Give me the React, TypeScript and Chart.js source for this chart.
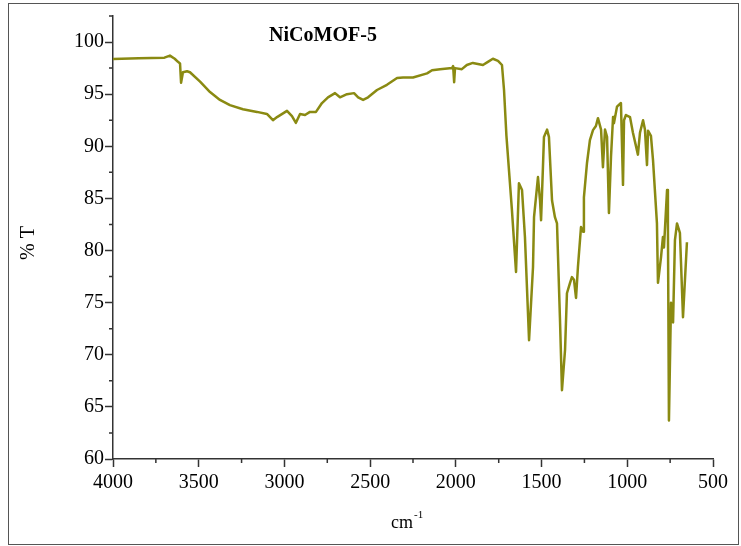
import { useEffect, useRef } from 'react';
import { Chart, registerables } from 'chart.js';

Chart.register(...registerables);

const FONT = "'Liberation Serif', 'Times New Roman', serif";
const LINE_COLOR = '#8a8a12';
const AXIS_COLOR = '#333333';

const chartTitle = 'NiCoMOF-5';
const yAxisTitle = '% T';
const xAxisTitleBase = 'cm';
const xAxisTitleSup = '-1';

const xMajorTicks = [4000, 3500, 3000, 2500, 2000, 1500, 1000, 500];
const xMinorTicks = [3750, 3250, 2750, 2250, 1750, 1250, 750];
const yMajorTicks = [60, 65, 70, 75, 80, 85, 90, 95, 100];
const yMinorTicks = [62.5, 67.5, 72.5, 77.5, 82.5, 87.5, 92.5, 97.5, 102.5];

const wavenumbers = [
  4000, 3850, 3700, 3668, 3640, 3621, 3609, 3603, 3592, 3568,
  3551, 3492, 3434, 3376, 3318, 3242, 3160, 3102, 3067, 3043,
  2985, 2956, 2933, 2909, 2880, 2851, 2816, 2781, 2746, 2705,
  2676, 2635, 2594, 2570, 2541, 2512, 2460, 2402, 2343, 2308,
  2250, 2168, 2139, 2092, 2022, 2016, 2010, 2005, 1965, 1936,
  1901, 1842, 1813, 1784, 1754, 1731, 1719, 1705, 1673, 1649,
  1632, 1614, 1597, 1573, 1550, 1544, 1521, 1509, 1503, 1492,
  1486, 1468, 1457, 1439, 1422, 1410, 1393, 1381, 1363, 1352,
  1334, 1323, 1311, 1299, 1288, 1270, 1258, 1253, 1235, 1218,
  1200, 1183, 1171, 1153, 1142, 1130, 1118, 1107, 1095, 1083,
  1078, 1060, 1037, 1025, 1019, 1008, 984, 967, 938, 926,
  908, 897, 885, 879, 862, 850, 827, 821, 803, 792,
  786, 768, 763, 757, 745, 733, 722, 710, 693, 675,
  652,
];

const transmittance = [
  98.37, 98.45, 98.5, 98.7, 98.4, 98.1, 97.95, 96.1, 97.1, 97.2,
  97.1, 96.2, 95.2, 94.45, 93.95, 93.55, 93.3, 93.1, 92.5, 92.8,
  93.4, 92.9, 92.25, 93.1, 93.0, 93.3, 93.3, 94.15, 94.7, 95.1,
  94.7, 95.0, 95.1, 94.7, 94.45, 94.7, 95.4, 95.9, 96.55, 96.6,
  96.6, 97.0, 97.3, 97.4, 97.5, 97.7, 96.15, 97.5, 97.4, 97.8,
  98.0, 97.8, 98.1, 98.4, 98.2, 97.8, 95.4, 91.0, 83.9, 77.95,
  86.45, 85.8, 81.3, 71.4, 78.4, 83.2, 87.05, 84.8, 82.9, 88.0,
  90.9, 91.6, 90.9, 84.8, 83.2, 82.6, 73.6, 66.6, 70.5, 75.9,
  76.9, 77.45, 77.2, 75.45, 78.4, 82.25, 81.8, 85.1, 88.4, 90.6,
  91.55, 91.95, 92.7, 91.6, 88.0, 91.6, 90.9, 83.6, 89.0, 92.8,
  92.2, 93.8, 94.15, 86.3, 92.5, 93.0, 92.8, 91.3, 89.2, 91.3,
  92.5, 91.6, 88.2, 91.5, 91.0, 88.7, 82.6, 76.9, 79.4, 81.3,
  80.3, 85.8, 82.6, 63.7, 75.0, 73.1, 81.0, 82.6, 81.7, 73.6,
  80.8,
];

export default function App() {
  const ref = useRef<HTMLCanvasElement>(null);

  useEffect(() => {
    if (!ref.current) return;

    const overlay = {
      id: 'overlay',
      afterDraw(chart: any) {
        const ctx = chart.ctx as CanvasRenderingContext2D;
        const xs = chart.scales.x;
        const ys = chart.scales.y;
        ctx.save();
        // minor ticks
        ctx.strokeStyle = AXIS_COLOR;
        ctx.lineWidth = 1.5;
        ctx.beginPath();
        xMinorTicks.forEach((v) => {
          const px = xs.getPixelForValue(v);
          ctx.moveTo(px, ys.bottom);
          ctx.lineTo(px, ys.bottom + 4);
        });
        yMinorTicks.forEach((v) => {
          const py = ys.getPixelForValue(v);
          ctx.moveTo(xs.left, py);
          ctx.lineTo(xs.left - 4, py);
        });
        ctx.stroke();

        // frame
        ctx.strokeStyle = '#555555';
        ctx.lineWidth = 1;
        ctx.strokeRect(8.5, 3.5, 730, 541);

        // chart title
        ctx.fillStyle = '#000';
        ctx.font = `bold 20px ${FONT}`;
        ctx.textAlign = 'center';
        ctx.textBaseline = 'middle';
        ctx.fillText(chartTitle, 323, 36);

        // y title
        ctx.save();
        ctx.translate(29, 243);
        ctx.rotate(-Math.PI / 2);
        ctx.font = `20px ${FONT}`;
        ctx.textAlign = 'center';
        ctx.textBaseline = 'middle';
        ctx.fillText(yAxisTitle, 0, 0);
        ctx.restore();

        // x title with superscript
        ctx.font = `18px ${FONT}`;
        ctx.textAlign = 'left';
        ctx.textBaseline = 'alphabetic';
        ctx.fillText(xAxisTitleBase, 391, 528);
        const w = ctx.measureText(xAxisTitleBase).width;
        ctx.font = `11px ${FONT}`;
        ctx.fillText(xAxisTitleSup, 391 + w + 1, 518);
        ctx.restore();
      },
    };

    const chart = new Chart(ref.current, {
      type: 'line',
      data: {
        datasets: [
          {
            data: wavenumbers.map((x, i) => ({ x, y: transmittance[i] })),
            borderColor: LINE_COLOR,
            borderWidth: 2.5,
            pointRadius: 0,
            tension: 0,
            fill: false,
            borderJoinStyle: 'round',
          },
        ],
      },
      options: {
        responsive: false,
        animation: false,
        events: [],
        layout: { padding: { left: 0, right: 28, top: 16, bottom: 0 } },
        plugins: {
          legend: { display: false },
          tooltip: { enabled: false },
          title: { display: false },
        },
        scales: {
          x: {
            type: 'linear',
            reverse: true,
            min: 500,
            max: 4000,
            afterBuildTicks: (scale: any) => {
              scale.ticks = xMajorTicks.map((v) => ({ value: v }));
            },
            afterFit: (scale: any) => {
              scale.height = 87;
            },
            grid: {
              display: true,
              drawOnChartArea: false,
              drawTicks: true,
              tickLength: 8,
              tickColor: AXIS_COLOR,
              tickWidth: 1.5,
            },
            border: { display: true, color: AXIS_COLOR, width: 1.5 },
            ticks: {
              color: '#000',
              font: { family: FONT, size: 20 },
              padding: 4,
              maxRotation: 0,
              autoSkip: false,
              callback: (v: any) => String(v),
            },
          },
          y: {
            type: 'linear',
            min: 60,
            max: 102.5,
            afterBuildTicks: (scale: any) => {
              scale.ticks = yMajorTicks.map((v) => ({ value: v }));
            },
            afterFit: (scale: any) => {
              scale.width = 113;
            },
            grid: {
              display: true,
              drawOnChartArea: false,
              drawTicks: true,
              tickLength: 8,
              tickColor: AXIS_COLOR,
              tickWidth: 1.5,
            },
            border: { display: true, color: AXIS_COLOR, width: 1.5 },
            ticks: {
              color: '#000',
              font: { family: FONT, size: 20 },
              padding: 1,
              autoSkip: false,
              callback: (v: any) => String(v),
            },
          },
        },
      },
      plugins: [overlay],
    });

    return () => chart.destroy();
  }, []);

  return (
    <div style={{ position: 'fixed', left: 0, top: 0, width: 741, height: 546, background: '#fff' }}>
      <canvas ref={ref} width={741} height={546} style={{ width: 741, height: 546, display: 'block' }} />
    </div>
  );
}
